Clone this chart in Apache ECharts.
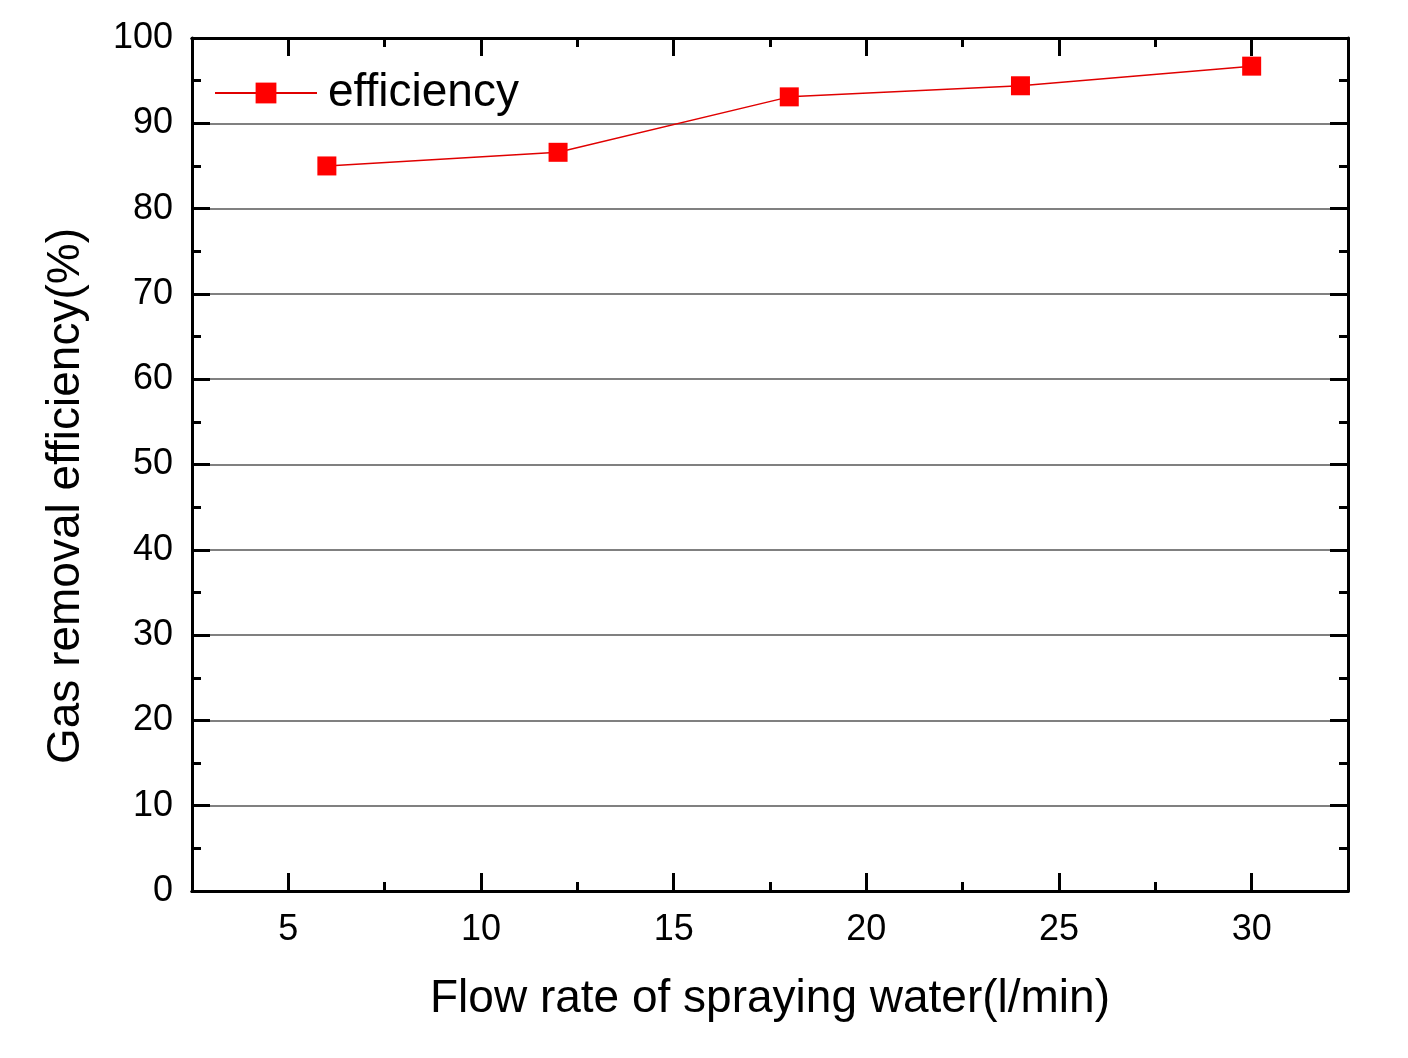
<!DOCTYPE html>
<html><head><meta charset="utf-8">
<script src="https://cdn.jsdelivr.net/npm/echarts@6/dist/echarts.min.js"></script>
<style>html,body{margin:0;padding:0;background:#fff}#c{width:1408px;height:1058px}</style>
</head><body><div id="c"></div>
<script>
var flowRates = [6, 12, 18, 24, 30];
var efficiency = [85.0, 86.6, 93.1, 94.4, 96.7];
var xMajorTicks = [5, 10, 15, 20, 25, 30];
var xMinorTicks = [7.5, 12.5, 17.5, 22.5, 27.5];
var seriesName = 'efficiency';
var xTitle = 'Flow rate of spraying water(l/min)';
var yTitle = 'Gas removal efficiency(%)';

var font = 'Liberation Sans, Arial, sans-serif';
var chart = echarts.init(document.getElementById('c'));
function xAx(pos, ticks, len, labels) {
  return {
    type: 'value', position: pos, min: 2.5, max: 32.5,
    axisLine: {show: true, onZero: false, lineStyle: {color: '#000', width: 3}},
    axisTick: {show: true, inside: true, length: len, customValues: ticks, lineStyle: {color: '#000', width: 3}},
    axisLabel: {show: labels, customValues: ticks, fontSize: 36, color: '#000', fontFamily: font, margin: 21},
    splitLine: {show: false},
    name: labels ? xTitle : '', nameLocation: 'middle', nameGap: 85,
    nameTextStyle: {fontSize: 46, color: '#000', fontFamily: font}
  };
}
function yAx(pos, labels) {
  return {
    type: 'value', position: pos, min: 0, max: 100, interval: 10,
    axisLine: {show: true, onZero: false, lineStyle: {color: '#000', width: 3}},
    axisTick: {show: true, inside: true, length: 18, lineStyle: {color: '#000', width: 3}},
    minorTick: {show: true, splitNumber: 2, length: 9, lineStyle: {color: '#000', width: 3}},
    axisLabel: {show: labels, fontSize: 36, color: '#000', fontFamily: font, margin: 19, padding: [4, 0, 0, 0]},
    splitLine: {show: labels, lineStyle: {color: '#808080', width: 2}}
  };
}
chart.setOption({
  backgroundColor: '#fff',
  animation: false,
  grid: {left: 192, top: 38, width: 1156, height: 853},
  xAxis: [xAx('bottom', xMajorTicks, 18, true), xAx('bottom', xMinorTicks, 9, false),
          xAx('top', xMajorTicks, 18, false), xAx('top', xMinorTicks, 9, false)],
  yAxis: [yAx('left', true), yAx('right', false)],
  legend: {
    left: 209, top: 65, itemWidth: 102, itemHeight: 26, itemGap: 10,
    textStyle: {fontSize: 46, color: '#000', fontFamily: font, padding: [2, 0, 0, 6]},
    data: [seriesName]
  },
  graphic: [{
    type: 'text', x: 66, y: 496, rotation: Math.PI / 2,
    style: {text: yTitle, fontSize: 46, fill: '#000', fontFamily: font, textAlign: 'center', textVerticalAlign: 'middle'}
  }],
  series: [{
    name: seriesName, type: 'line', xAxisIndex: 0, yAxisIndex: 0,
    data: flowRates.map(function (x, i) { return [x, efficiency[i]]; }),
    symbol: 'rect', symbolSize: 19,
    itemStyle: {color: '#ff0000'},
    lineStyle: {color: '#e00000', width: 1.5}
  }]
});
</script></body></html>
